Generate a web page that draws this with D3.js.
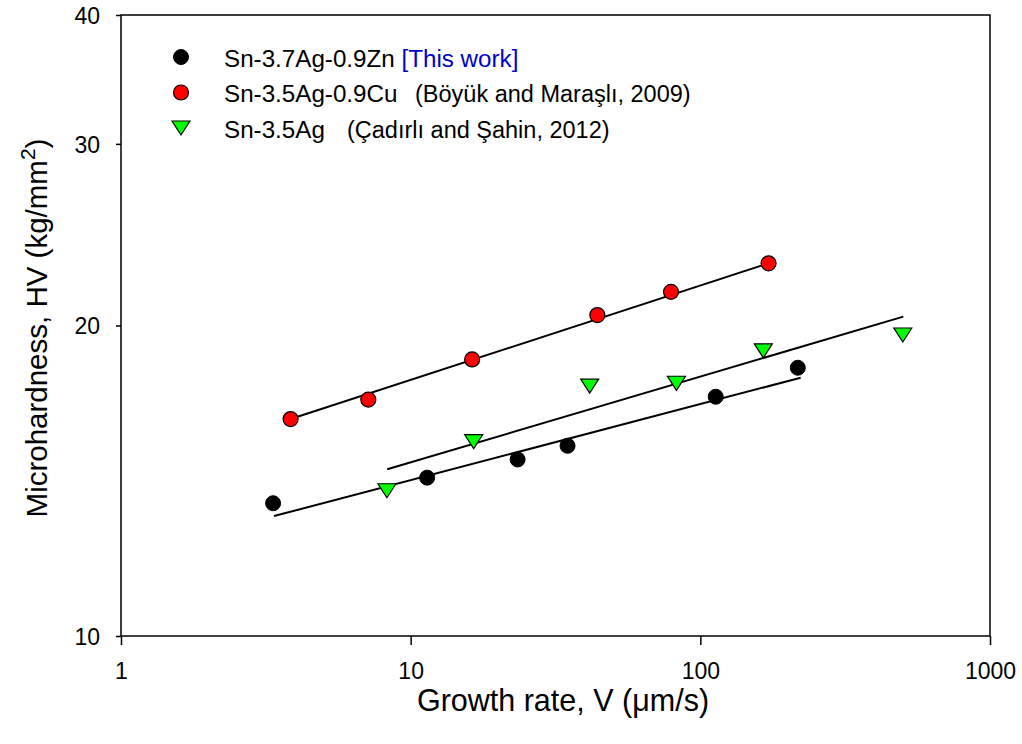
<!DOCTYPE html>
<html>
<head>
<meta charset="utf-8">
<script src="https://cdn.jsdelivr.net/npm/d3@7"></script>
<style>
  body { margin: 0; background: #fff; }
  text { font-family: "Liberation Sans", Arial, sans-serif; fill: #000; }
</style>
</head>
<body>
<svg id="chart" width="1022" height="744"></svg>
<script>
// Sn-3.7Ag-0.9Zn (this work)
const znV  = [3.35, 11.4, 23.4, 34.8, 113, 217];
const znHV = [13.45, 14.24, 14.83, 15.29, 17.06, 18.2];
// Sn-3.5Ag-0.9Cu (Böyük and Maraşlı, 2009)
const cuV  = [3.85, 7.14, 16.3, 44.1, 79.2, 172];
const cuHV = [16.23, 16.95, 18.54, 20.47, 21.56, 22.98];
// Sn-3.5Ag (Çadırlı and Şahin, 2012)
const agV  = [8.28, 16.5, 41.5, 82.7, 165, 500];
const agHV = [13.83, 15.43, 17.47, 17.58, 18.9, 19.58];

// fitted lines, end points
const znFitV = [3.375, 222], znFitHV = [13.07, 17.8];
const cuFitV = [3.85, 172],  cuFitHV = [16.23, 22.98];
const agFitV = [8.3, 502],   agFitHV = [14.51, 20.4];

const xTicks = [1, 10, 100, 1000];
const yTicks = [10, 20, 30, 40];

const svg = d3.select("#chart");
const plotL = 121, plotR = 990, plotT = 15, plotB = 636;

const x = d3.scaleLog().domain([1, 1000]).range([plotL, plotR]);
const y = d3.scaleLog().domain([10, 40]).range([plotB, plotT]);

// frame
svg.append("rect")
    .attr("x", plotL).attr("y", plotT)
    .attr("width", plotR - plotL).attr("height", plotB - plotT)
    .attr("fill", "none").attr("stroke", "#000").attr("stroke-width", 1.5);

const xAxis = svg.append("g")
    .attr("transform", `translate(0,${plotB})`)
    .call(d3.axisBottom(x).tickValues(xTicks).tickFormat(d3.format("d")).tickSize(9).tickSizeOuter(0));
xAxis.select(".domain").remove();
xAxis.selectAll("line").attr("stroke-width", 1.5);
xAxis.selectAll("text").attr("font-size", 23).attr("dy", "1.35em").attr("font-family", null);

const yAxis = svg.append("g")
    .attr("transform", `translate(${plotL},0)`)
    .call(d3.axisLeft(y).tickValues(yTicks).tickFormat(d3.format("d")).tickSize(5).tickSizeOuter(0));
yAxis.select(".domain").remove();
yAxis.selectAll("line").attr("stroke-width", 1.5);
yAxis.selectAll("text").attr("font-size", 23).attr("x", -21).attr("dy", "0.36em").attr("font-family", null);

// axis titles
svg.append("text")
    .attr("x", 563).attr("y", 711)
    .attr("text-anchor", "middle")
    .attr("font-size", 30.5)
    .text("Growth rate, V (μm/s)");

const yTitle = svg.append("text")
    .attr("transform", "translate(47,328) rotate(-90)")
    .attr("text-anchor", "middle")
    .attr("font-size", 29.5);
yTitle.append("tspan").text("Microhardness, HV (kg/mm");
yTitle.append("tspan").attr("dy", -12).attr("font-size", 21).text("2");
yTitle.append("tspan").attr("dy", 12).text(")");

// fit lines
const line = d3.line().x(d => x(d[0])).y(d => y(d[1]));
[[znFitV, znFitHV], [cuFitV, cuFitHV], [agFitV, agFitHV]].forEach(([vs, hs]) => {
    svg.append("path")
        .datum(d3.zip(vs, hs))
        .attr("d", line)
        .attr("fill", "none")
        .attr("stroke", "#000")
        .attr("stroke-width", 2);
});

const tri = "M-9,-7L9,-7L0,7Z";

svg.selectAll(".zn").data(d3.zip(znV, znHV)).join("circle")
    .attr("cx", d => x(d[0])).attr("cy", d => y(d[1])).attr("r", 7.5)
    .attr("fill", "#000").attr("stroke", "#000");

svg.selectAll(".cu").data(d3.zip(cuV, cuHV)).join("circle")
    .attr("cx", d => x(d[0])).attr("cy", d => y(d[1])).attr("r", 7.5)
    .attr("fill", "#ff0000").attr("stroke", "#000").attr("stroke-width", 1.2);

svg.selectAll(".ag").data(d3.zip(agV, agHV)).join("path")
    .attr("transform", d => `translate(${x(d[0])},${y(d[1])})`)
    .attr("d", tri)
    .attr("fill", "#00ff00").attr("stroke", "#000").attr("stroke-width", 1.2);

// legend
const legend = svg.append("g").attr("transform", "translate(181,57)");
legend.append("circle").attr("cx", 0).attr("cy", 0).attr("r", 7.5)
    .attr("fill", "#000").attr("stroke", "#000");
legend.append("circle").attr("cx", 0).attr("cy", 35.5).attr("r", 7.5)
    .attr("fill", "#ff0000").attr("stroke", "#000").attr("stroke-width", 1.2);
legend.append("path").attr("transform", "translate(0,71)").attr("d", tri)
    .attr("fill", "#00ff00").attr("stroke", "#000").attr("stroke-width", 1.2);

const t1 = legend.append("text").attr("x", 43).attr("y", 9.5).attr("font-size", 24.2);
t1.append("tspan").text("Sn-3.7Ag-0.9Zn ");
t1.append("tspan").style("fill", "#0000cc").text("[This work]");

legend.append("text").attr("x", 43).attr("y", 45).attr("font-size", 24.2).text("Sn-3.5Ag-0.9Cu");
legend.append("text").attr("x", 234).attr("y", 45).attr("font-size", 23.5).text("(Böyük and Maraşlı, 2009)");
legend.append("text").attr("x", 43).attr("y", 80.5).attr("font-size", 24.2).text("Sn-3.5Ag");
legend.append("text").attr("x", 166).attr("y", 80.5).attr("font-size", 23.5).text("(Çadırlı and Şahin, 2012)");
</script>
</body>
</html>
